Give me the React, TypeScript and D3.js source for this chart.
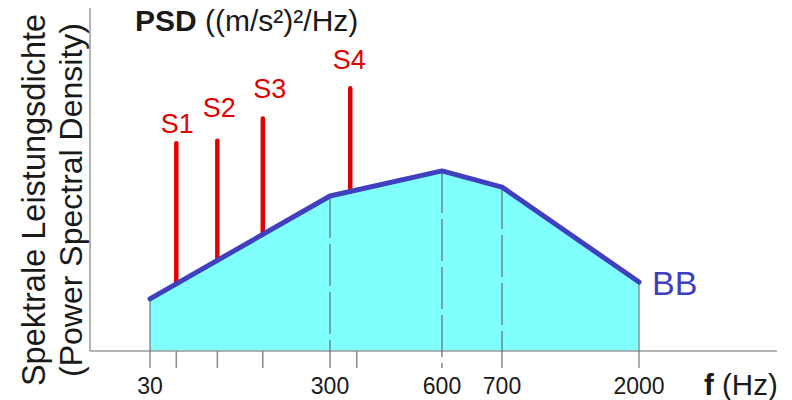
import React from "react";
import * as d3 from "d3";

// Broadband (BB) PSD profile: breakpoints in Hz and relative PSD level
const FREQ_BREAKS = [30, 300, 600, 700, 2000];
const BB_PSD = [1.52, 4.52, 5.25, 4.78, 2.01];
const TICK_LABELS = ["30", "300", "600", "700", "2000"];
const DASHED_BREAKS = [300, 600, 700];
const MINOR_TICKS = [42, 71, 127, 354];

// Sine components superimposed on the broadband profile
const SINE_NAMES = ["S1", "S2", "S3", "S4"];
const SINE_FREQ = [42, 71, 127, 340];
const SINE_PSD = [6.06, 6.13, 6.78, 7.66];

const W = 792;
const H = 400;
const AXIS_X = 90;
const AXIS_Y = 351;
const AXIS_TOP = 8;
const AXIS_RIGHT = 777;
const TICK_LEN = 17;
// Horizontal layout of the breakpoints (schematic, non-uniform frequency axis)
const BREAK_PX = [150, 330, 442, 502, 639];
// Label nudges relative to each spike top
const LABEL_NUDGE: [number, number][] = [[1, -10], [2, -24], [7, -20], [-1, -19]];

const FONT = "'Liberation Sans', Arial, Helvetica, sans-serif";
const CYAN = "#80ffff";
const BLUE = "#3f3fc0";
const RED = "#e00000";

export default function App() {
  const logBreaks = FREQ_BREAKS.map(Math.log10);
  const x = d3.scaleLinear().domain(logBreaks).range(BREAK_PX);
  const xf = (f: number) => x(Math.log10(f));
  const y = d3.scaleLinear().domain([0, 10]).range([AXIS_Y, AXIS_TOP]);
  // BB level at any frequency (piecewise in log-frequency)
  const bbAt = d3.scaleLinear().domain(logBreaks).range(BB_PSD);

  const pts = FREQ_BREAKS.map((f, i) => ({ f, v: BB_PSD[i] }));
  const area = d3
    .area<{ f: number; v: number }>()
    .x((d) => xf(d.f))
    .y0(AXIS_Y)
    .y1((d) => y(d.v));
  const line = d3
    .line<{ f: number; v: number }>()
    .x((d) => xf(d.f))
    .y((d) => y(d.v));

  const fLast = FREQ_BREAKS[FREQ_BREAKS.length - 1];
  const vLast = BB_PSD[BB_PSD.length - 1];

  return (
    <svg
      width={W}
      height={H}
      style={{ position: "absolute", left: 0, top: 0, background: "#fff" }}
      fontFamily={FONT}
    >
      {/* filled broadband region */}
      <path d={area(pts) || ""} fill={CYAN} />

      {/* axes */}
      <line x1={AXIS_X} y1={AXIS_TOP} x2={AXIS_X} y2={AXIS_Y} stroke="#9a9a9a" strokeWidth={1.5} />
      <line x1={AXIS_X} y1={AXIS_Y} x2={AXIS_RIGHT} y2={AXIS_Y} stroke="#9a9a9a" strokeWidth={1.5} />

      {/* solid edges at the band limits, continuing as ticks */}
      {[FREQ_BREAKS[0], fLast].map((f, i) => (
        <line
          key={"edge" + i}
          x1={xf(f)}
          x2={xf(f)}
          y1={y(bbAt(Math.log10(f)))}
          y2={AXIS_Y + TICK_LEN}
          stroke="#6a7a7a"
          strokeWidth={1.2}
        />
      ))}

      {/* dashed break-point markers */}
      {DASHED_BREAKS.map((f) => (
        <line
          key={"dash" + f}
          x1={xf(f)}
          x2={xf(f)}
          y1={y(bbAt(Math.log10(f)))}
          y2={AXIS_Y + TICK_LEN}
          stroke="#5f6b6b"
          strokeWidth={1.2}
          strokeDasharray="42,6"
        />
      ))}

      {/* minor ticks */}
      {MINOR_TICKS.map((f) => (
        <line
          key={"mt" + f}
          x1={xf(f)}
          x2={xf(f)}
          y1={AXIS_Y}
          y2={AXIS_Y + TICK_LEN}
          stroke="#8a8a8a"
          strokeWidth={1.5}
        />
      ))}

      {/* tick labels */}
      {FREQ_BREAKS.map((f, i) => (
        <text
          key={"tl" + f}
          x={xf(f)}
          y={394}
          textAnchor="middle"
          fontSize={23}
          fill="#1a1a1a"
        >
          {TICK_LABELS[i]}
        </text>
      ))}

      {/* sine spikes */}
      {SINE_FREQ.map((f, i) => (
        <g key={SINE_NAMES[i]}>
          <line
            x1={xf(f)}
            x2={xf(f)}
            y1={y(bbAt(Math.log10(f)))}
            y2={y(SINE_PSD[i])}
            stroke={RED}
            strokeWidth={4.5}
            strokeLinecap="round"
          />
          <text
            x={xf(f) + LABEL_NUDGE[i][0]}
            y={y(SINE_PSD[i]) + LABEL_NUDGE[i][1]}
            textAnchor="middle"
            fontSize={27}
            fill={RED}
          >
            {SINE_NAMES[i]}
          </text>
        </g>
      ))}

      {/* broadband profile line */}
      <path
        d={line(pts) || ""}
        fill="none"
        stroke={BLUE}
        strokeWidth={5}
        strokeLinejoin="round"
        strokeLinecap="round"
      />
      <text x={xf(fLast) + 13} y={y(vLast) + 13} fontSize={34} fill={BLUE}>
        BB
      </text>

      {/* y-axis title */}
      <g transform={`translate(45,200) rotate(-90)`}>
        <text x={0} y={0} textAnchor="middle" fontSize={32.5} fill="#1a1a1a">
          Spektrale Leistungsdichte
        </text>
        <text x={0} y={37} textAnchor="middle" fontSize={32} fill="#1a1a1a">
          (Power Spectral Density)
        </text>
      </g>

      {/* unit title */}
      <text x={135} y={31} fontSize={30} fill="#1a1a1a">
        <tspan fontWeight="bold">PSD</tspan>
        <tspan> ((m/s²)²/Hz)</tspan>
      </text>

      {/* x-axis title */}
      <text x={704} y={395} fontSize={29.5} fill="#1a1a1a">
        <tspan fontWeight="bold">f</tspan>
        <tspan> (Hz)</tspan>
      </text>
    </svg>
  );
}
